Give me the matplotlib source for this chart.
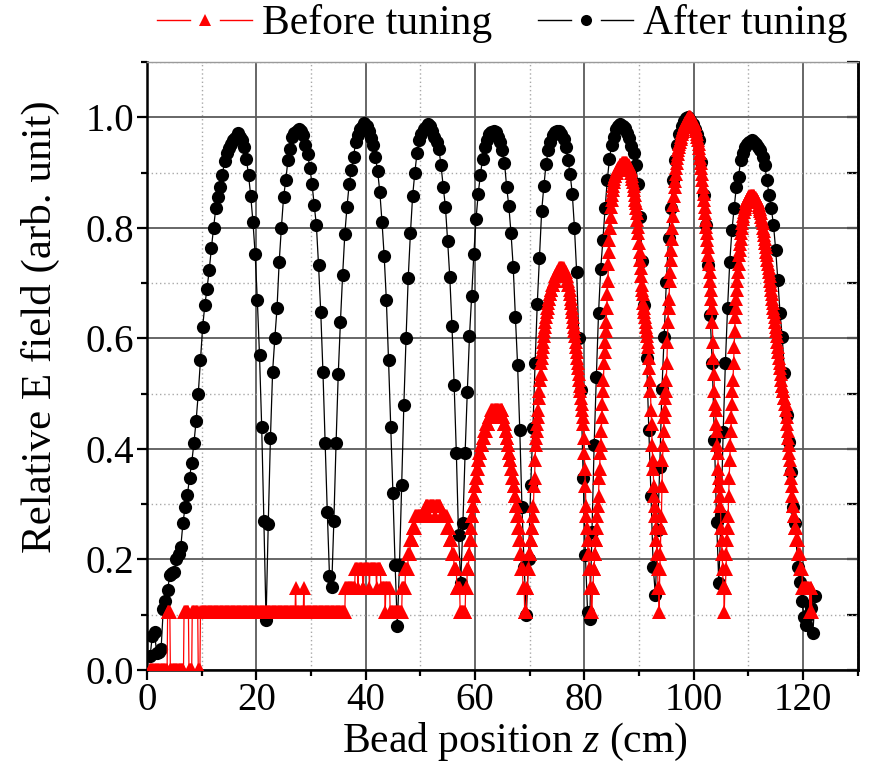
import numpy as np
import matplotlib
matplotlib.use("Agg")
import matplotlib.pyplot as plt
from matplotlib.lines import Line2D
from matplotlib.legend_handler import HandlerBase
from matplotlib.ticker import MultipleLocator

plt.rcParams["font.family"] = ["Liberation Serif", "DejaVu Serif"]
plt.rcParams["mathtext.fontset"] = "custom"
plt.rcParams["mathtext.rm"] = "Liberation Serif"
plt.rcParams["mathtext.it"] = "Liberation Serif:italic"

# ---- bead-pull sampling grids (cm) ----
after_z0, after_dz = 0.6, 0.4
before_z0, before_dz = 0.5, 0.1

# ---- relative field after tuning (one value per 0.4 cm step) ----
after_e = [
    0.026, 0.062, 0.068, 0.03, 0.033, 0.038, 0.11, 0.125, 0.145, 0.172,
    0.175, 0.178, 0.2, 0.21, 0.222, 0.266, 0.295, 0.316, 0.347, 0.375,
    0.41, 0.45, 0.5, 0.56, 0.62, 0.66, 0.69, 0.723, 0.763, 0.8,
    0.835, 0.855, 0.874, 0.895, 0.92, 0.935, 0.945, 0.952, 0.958, 0.962,
    0.972, 0.965, 0.958, 0.946, 0.925, 0.895, 0.857, 0.811, 0.753, 0.67,
    0.57, 0.44, 0.27, 0.09, 0.265, 0.42, 0.54, 0.6, 0.654, 0.738,
    0.8, 0.855, 0.886, 0.922, 0.943, 0.964, 0.972, 0.976, 0.979, 0.975,
    0.967, 0.95, 0.933, 0.909, 0.88, 0.841, 0.805, 0.732, 0.648, 0.54,
    0.41, 0.285, 0.17, 0.15, 0.27, 0.41, 0.535, 0.63, 0.714, 0.788,
    0.838, 0.879, 0.904, 0.928, 0.955, 0.967, 0.978, 0.982, 0.99, 0.985,
    0.976, 0.962, 0.949, 0.928, 0.903, 0.865, 0.811, 0.749, 0.669, 0.56,
    0.44, 0.32, 0.19, 0.08, 0.19, 0.335, 0.48, 0.6, 0.71, 0.79,
    0.857, 0.899, 0.935, 0.958, 0.97, 0.978, 0.982, 0.988, 0.984, 0.976,
    0.964, 0.955, 0.943, 0.913, 0.874, 0.838, 0.777, 0.711, 0.622, 0.515,
    0.392, 0.244, 0.157, 0.266, 0.392, 0.503, 0.604, 0.676, 0.753, 0.816,
    0.862, 0.896, 0.925, 0.946, 0.958, 0.97, 0.974, 0.976, 0.973, 0.965,
    0.955, 0.94, 0.918, 0.874, 0.839, 0.79, 0.729, 0.638, 0.552, 0.434,
    0.295, 0.187, 0.1, 0.2, 0.334, 0.437, 0.555, 0.663, 0.745, 0.83,
    0.875, 0.915, 0.94, 0.955, 0.967, 0.973, 0.976, 0.975, 0.97, 0.961,
    0.946, 0.923, 0.898, 0.862, 0.8, 0.72, 0.6, 0.506, 0.347, 0.208,
    0.105, 0.093, 0.25, 0.407, 0.53, 0.645, 0.726, 0.778, 0.835, 0.886,
    0.925, 0.95, 0.965, 0.979, 0.985, 0.988, 0.985, 0.98, 0.972, 0.962,
    0.948, 0.935, 0.913, 0.88, 0.82, 0.74, 0.66, 0.564, 0.434, 0.315,
    0.187, 0.136, 0.253, 0.368, 0.509, 0.603, 0.702, 0.781, 0.835, 0.886,
    0.922, 0.949, 0.97, 0.985, 0.993, 0.998, 1.0, 0.995, 0.988, 0.978,
    0.97, 0.958, 0.919, 0.859, 0.805, 0.732, 0.642, 0.555, 0.416, 0.268,
    0.157, 0.28, 0.431, 0.555, 0.655, 0.738, 0.796, 0.835, 0.874, 0.892,
    0.922, 0.935, 0.946, 0.952, 0.955, 0.958, 0.955, 0.952, 0.946, 0.94,
    0.928, 0.913, 0.886, 0.859, 0.835, 0.805, 0.76, 0.705, 0.645, 0.603,
    0.537, 0.461, 0.413, 0.359, 0.295, 0.266, 0.187, 0.16, 0.124, 0.095,
    0.081, 0.1, 0.112, 0.066, 0.133,
]

# ---- relative field before tuning (one value per 0.1 cm step) ----
before_e = (
    # z = 0.5 .. 9.7 : detector noise floor, toggling between two levels
    [0.0] * 33 + [0.105] * 5 + [0.0] * 25 + [0.105] * 9 + [0.0] * 6
    + [0.105] * 11 + [0.0] * 4
    # z = 9.8 .. 36.2 : weak field in the first cells
    + [0.105] * 174 + [0.148] + [0.105] * 14 + [0.148] + [0.105] * 75
    # z = 36.3 .. 47.2
    + [0.148] * 18
    + [0.182] * 5 + [0.148] + [0.182] * 8 + [0.148] * 2 + [0.182] * 10
    + [0.148] + [0.182] * 12 + [0.148] + [0.182] * 7
    + [0.148] * 8 + [0.105] + [0.148] * 8
    + [0.105] * 22 + [0.148] * 6
    # z = 47.3 .. 59.6 : fourth cell
    + [0.182] * 5 + [0.21] * 4 + [0.235] * 4 + [0.257] * 5 + [0.278] * 2
    + [0.278] * 17
    + [0.297] * 6 + [0.278] + [0.297] * 10 + [0.278] + [0.297] * 10
    + [0.278] * 11
    + [0.257] * 5 + [0.235] * 4 + [0.21] * 4 + [0.182] * 5 + [0.148] * 6
    + [0.105] * 10
    + [0.148] * 3 + [0.182] * 3 + [0.21] * 2 + [0.235] * 2 + [0.257]
    + [0.278] * 2 + [0.297]
    # z = 59.7 .. 69.4 : fifth cell
    + [0.297, 0.315, 0.315, 0.332, 0.332, 0.348, 0.348, 0.364, 0.364, 0.379,
       0.379, 0.393, 0.393, 0.393, 0.407, 0.407, 0.407, 0.42, 0.42, 0.42,
       0.433, 0.433, 0.433, 0.433, 0.445, 0.445, 0.445, 0.445, 0.458, 0.458,
       0.458, 0.458, 0.458]
    + [0.47] * 5 + [0.458] + [0.47] * 9 + [0.458] + [0.47] * 5
    + [0.458, 0.458, 0.445, 0.445, 0.445, 0.433, 0.433, 0.42, 0.42, 0.407,
       0.407, 0.393, 0.393, 0.379, 0.379, 0.364, 0.364, 0.348, 0.348, 0.348,
       0.332, 0.332, 0.315, 0.315, 0.297, 0.297, 0.278, 0.278, 0.257, 0.257,
       0.235, 0.235, 0.21, 0.21, 0.182, 0.182, 0.182, 0.148, 0.148, 0.148]
    + [0.105] * 4
    # z = 69.5 .. 81.5 : sixth cell
    + [0.148, 0.148, 0.182, 0.182, 0.21, 0.21, 0.21, 0.235, 0.235, 0.257,
       0.257, 0.278, 0.297, 0.332, 0.348, 0.379, 0.407, 0.42, 0.433, 0.445,
       0.458, 0.47, 0.492, 0.504, 0.525, 0.535, 0.556, 0.565, 0.575, 0.585,
       0.594, 0.604, 0.613, 0.621, 0.63, 0.639, 0.647, 0.655, 0.655, 0.664,
       0.672, 0.672, 0.68, 0.68, 0.688, 0.688, 0.696, 0.696, 0.696, 0.704,
       0.704, 0.704, 0.712, 0.712, 0.712, 0.72, 0.72, 0.72, 0.72, 0.727,
       0.727, 0.727, 0.727, 0.727]
    + [0.727, 0.727, 0.727, 0.727, 0.72, 0.72, 0.72, 0.72, 0.712, 0.712,
       0.704, 0.704, 0.696, 0.696, 0.688, 0.68, 0.672, 0.664, 0.655, 0.647,
       0.639, 0.63, 0.621, 0.613, 0.604, 0.594, 0.585, 0.575, 0.565, 0.556,
       0.546, 0.535, 0.525, 0.514, 0.504, 0.492, 0.481, 0.47, 0.458, 0.445,
       0.42, 0.393, 0.364, 0.332, 0.297, 0.278, 0.257, 0.235, 0.21, 0.21,
       0.182, 0.182, 0.148, 0.148, 0.105, 0.105, 0.148]
    # z = 81.6 .. 93.6 : seventh cell
    + [0.148, 0.182, 0.182, 0.21, 0.21, 0.235, 0.235, 0.257, 0.278, 0.297,
       0.315, 0.348, 0.364, 0.393, 0.407, 0.433, 0.458, 0.481, 0.504, 0.525,
       0.556, 0.575, 0.594, 0.613, 0.63, 0.655, 0.68, 0.704, 0.735, 0.757,
       0.778, 0.8, 0.82, 0.838, 0.85, 0.86, 0.868, 0.876, 0.883, 0.889,
       0.894, 0.894, 0.899, 0.899, 0.904, 0.904, 0.909, 0.909, 0.909, 0.913,
       0.913, 0.913, 0.913, 0.918, 0.918, 0.918, 0.918, 0.918, 0.918, 0.918,
       0.918]
    + [0.918, 0.918, 0.913, 0.913, 0.913, 0.909, 0.909, 0.904, 0.904, 0.899,
       0.894, 0.889, 0.883, 0.876, 0.868, 0.86, 0.85, 0.844, 0.835, 0.826,
       0.814, 0.802, 0.79, 0.772, 0.757, 0.742, 0.727, 0.712, 0.696, 0.688,
       0.68, 0.664, 0.655, 0.647, 0.639, 0.63, 0.621, 0.613, 0.604, 0.594,
       0.585, 0.565, 0.546, 0.525, 0.504, 0.47, 0.445, 0.407, 0.379, 0.364,
       0.332, 0.315, 0.297, 0.278, 0.257, 0.235, 0.21, 0.182, 0.148, 0.148]
    # z = 93.7 .. 105.4 : eighth cell
    + [0.105, 0.182, 0.21, 0.257, 0.278, 0.332, 0.379, 0.407, 0.433, 0.458,
       0.47, 0.492, 0.504, 0.525, 0.556, 0.594, 0.63, 0.655, 0.672, 0.704,
       0.72, 0.742, 0.76, 0.78, 0.8, 0.822, 0.842, 0.858, 0.874, 0.885,
       0.897, 0.908, 0.918, 0.926, 0.933, 0.94, 0.946, 0.951, 0.956, 0.96,
       0.965, 0.969, 0.973, 0.976, 0.979, 0.982, 0.985, 0.987, 0.989, 0.991,
       0.993, 0.995, 0.997, 0.998, 1.0, 1.0]
    + [1.0, 1.0, 0.998, 0.998, 0.997, 0.995, 0.993, 0.991, 0.989, 0.987,
       0.983, 0.979, 0.975, 0.97, 0.964, 0.958, 0.951, 0.944, 0.936, 0.927,
       0.918, 0.908, 0.897, 0.886, 0.874, 0.862, 0.85, 0.838, 0.826, 0.814,
       0.802, 0.79, 0.778, 0.765, 0.75, 0.735, 0.72, 0.704, 0.688, 0.672,
       0.655, 0.63, 0.594, 0.565, 0.535, 0.504, 0.481, 0.47, 0.445, 0.433,
       0.407, 0.393, 0.364, 0.348, 0.332, 0.315, 0.297, 0.257, 0.235, 0.21,
       0.182, 0.148]
    # z = 105.5 .. 121.6 : ninth cell and end wall
    + [0.148, 0.105, 0.148, 0.148, 0.182, 0.21, 0.235, 0.257, 0.278, 0.315,
       0.348, 0.379, 0.407, 0.433, 0.458, 0.481, 0.504, 0.525, 0.556, 0.585,
       0.613, 0.639, 0.655, 0.672, 0.688, 0.704, 0.72, 0.735, 0.75, 0.76,
       0.77, 0.78, 0.79, 0.8, 0.808, 0.816, 0.822, 0.828, 0.834, 0.838,
       0.842, 0.846, 0.85, 0.85, 0.854, 0.854, 0.854, 0.858, 0.858, 0.858,
       0.858, 0.858, 0.858, 0.858, 0.858]
    + [0.858, 0.858, 0.854, 0.854, 0.854, 0.85, 0.85, 0.846, 0.846, 0.842,
       0.838, 0.834, 0.83, 0.826, 0.82, 0.814, 0.808, 0.8, 0.795, 0.787,
       0.78, 0.772, 0.765, 0.757, 0.75, 0.742, 0.735, 0.727, 0.72, 0.712,
       0.704, 0.696, 0.688, 0.68, 0.672, 0.664, 0.655, 0.647, 0.639, 0.63,
       0.621, 0.613, 0.604, 0.594, 0.585, 0.575, 0.565, 0.556, 0.546, 0.535,
       0.525, 0.514, 0.514, 0.504, 0.504, 0.492, 0.492, 0.481, 0.481, 0.47,
       0.458, 0.445, 0.433, 0.42, 0.407, 0.393, 0.379, 0.364, 0.348, 0.332,
       0.315, 0.297, 0.297, 0.278, 0.278, 0.257, 0.257, 0.257, 0.235, 0.235,
       0.235, 0.21, 0.21, 0.21, 0.21, 0.182, 0.182, 0.182, 0.182, 0.148,
       0.148, 0.148, 0.148, 0.148, 0.148, 0.148, 0.148, 0.148, 0.148, 0.148,
       0.148, 0.148, 0.148, 0.105, 0.148, 0.148, 0.105]
)

x_ticks = [0, 20, 40, 60, 80, 100, 120]
y_ticks = [0.0, 0.2, 0.4, 0.6, 0.8, 1.0]
series_labels = ["Before tuning", "After tuning"]

after_z = after_z0 + after_dz * np.arange(len(after_e))
before_z = before_z0 + before_dz * np.arange(len(before_e))


class GapLineHandler(HandlerBase):
    """Legend key drawn as: segment, symbol, segment (with gaps)."""

    def __init__(self, gap=0.2, **kw):
        super().__init__(**kw)
        self.gap = gap

    def create_artists(self, legend, orig_handle, xdescent, ydescent,
                       width, height, fontsize, trans):
        y = height / 2.0 - ydescent
        x0 = -xdescent
        x1 = x0 + width
        xm = x0 + width / 2.0
        g = self.gap * width
        color = orig_handle.get_color()
        lw = orig_handle.get_linewidth()
        left = Line2D([x0, xm - g], [y, y], color=color, lw=lw)
        rightseg = Line2D([xm + g, x1], [y, y], color=color, lw=lw)
        mark = Line2D([xm], [y], ls="none", marker=orig_handle.get_marker(),
                      ms=orig_handle.get_markersize(), color=color, mew=0)
        for a in (left, rightseg, mark):
            a.set_transform(trans)
        return [left, rightseg, mark]


fig = plt.figure(figsize=(8.69, 7.67), dpi=100)
ax = fig.add_axes([0.169, 0.1265, 0.818, 0.7927])

ax.plot(after_z, after_e, color="black", lw=0.9, marker="o", ms=9.5,
        mfc="black", mec="black", mew=0, zorder=3)
ax.plot(before_z, before_e, color="red", lw=0.9, marker="^", ms=10.5,
        mfc="red", mec="red", mew=0, zorder=4)

ax.set_xlim(0, 130)
ax.set_ylim(0, 1.1)
ax.set_xticks(x_ticks)
ax.set_xticklabels([str(t) for t in x_ticks])
ax.set_yticks(y_ticks)
ax.set_yticklabels([f"{t:.1f}" for t in y_ticks])
ax.xaxis.set_minor_locator(MultipleLocator(10))
ax.yaxis.set_minor_locator(MultipleLocator(0.1))

ax.set_axisbelow(True)
ax.grid(which="major", color="#5a5a5a", lw=1.3, ls="-")
ax.grid(which="minor", color="#a8a8a8", lw=1.0, ls=(0, (1, 2)))

ax.tick_params(which="major", direction="out", length=7, width=1.6,
               labelsize=28, pad=2, top=False, right=False)
ax.tick_params(which="minor", direction="out", length=4.5, width=1.6,
               top=False, right=False)

for side in ("left", "bottom", "right"):
    ax.spines[side].set_linewidth(1.8)
    ax.spines[side].set_color("black")
ax.spines["top"].set_linewidth(1.0)
ax.spines["top"].set_color("#9a9a9a")

right = ax.secondary_yaxis("right")
right.yaxis.set_major_locator(MultipleLocator(0.1))
right.tick_params(which="major", direction="in", length=8, width=1.6,
                  labelright=False)
right.spines["right"].set_linewidth(1.8)

ax.set_xlabel("Bead position $z$ (cm)", fontsize=30)
ax.set_ylabel("Relative E field (arb. unit)", fontsize=31)
ax.xaxis.set_label_coords(0.518, -0.118)
ax.xaxis.label.set_va("center")
ax.yaxis.set_label_coords(-0.15, 0.564)
ax.yaxis.label.set_va("center")

red_key = Line2D([], [], color="red", lw=1.0, marker="^", ms=9)
blk_key = Line2D([], [], color="black", lw=1.0, marker="o", ms=8)
fig.legend([red_key, blk_key], series_labels,
           handler_map={red_key: GapLineHandler(gap=0.16),
                        blk_key: GapLineHandler(gap=0.16)},
           loc="center", bbox_to_anchor=(0.5785, 0.969), ncol=2,
           frameon=False, fontsize=30, handlelength=2.27,
           handletextpad=0.25, columnspacing=1.1, borderpad=0.1)

fig.savefig("out.png", dpi=100)
